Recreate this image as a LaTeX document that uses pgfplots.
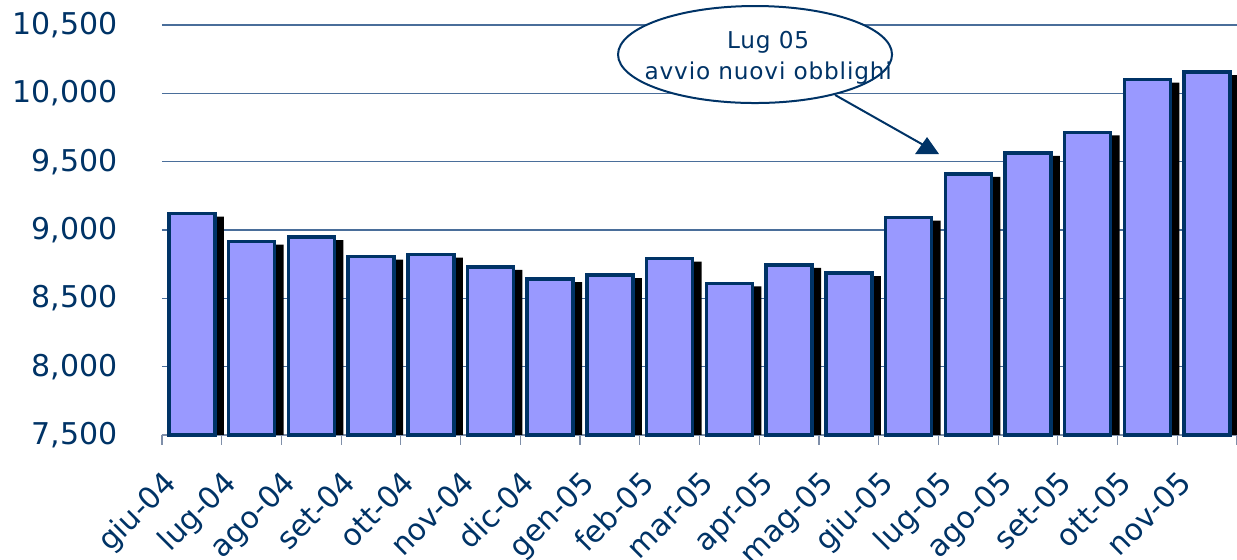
\documentclass[border=0pt]{standalone}
\usepackage{fontspec}
\setmainfont{DejaVu Sans}
\newfontfamily\spaced[LetterSpace=3.5]{DejaVu Sans}
\usepackage{pgfplots}
\pgfplotsset{compat=1.18}
\usepackage{pgfplotstable}
\usetikzlibrary{calc}

\definecolor{barfill}{HTML}{9999FF}
\definecolor{navy}{HTML}{003366}
\definecolor{gridc}{HTML}{4A6E9A}
\definecolor{tickc}{HTML}{7F8FA9}

% monthly values (bars start at 7,500)
\pgfplotstableread{
idx month value
0  giu-04 9120
1  lug-04 8915
2  ago-04 8947
3  set-04 8805
4  ott-04 8820
5  nov-04 8730
6  dic-04 8640
7  gen-05 8670
8  feb-05 8790
9  mar-05 8610
10 apr-05 8745
11 mag-05 8685
12 giu-05 9090
13 lug-05 9410
14 ago-05 9565
15 set-05 9715
16 ott-05 10100
17 nov-05 10155
}\data

\begin{document}
\begin{tikzpicture}
\begin{axis}[
    width=537.5pt, height=205pt, scale only axis,
    xmin=-0.5, xmax=17.5, ymin=0, ymax=3000,
    clip=false,
    axis lines*=left,
    x axis line style={tickc, line width=0.6pt},
    y axis line style={draw=none},
    ytick={0,500,...,3000},
    yticklabels={{7,500},{8,000},{8,500},{9,000},{9,500},{10,000},{10,500}},
    ytick style={draw=none},
    ymajorgrids, grid style={gridc, line width=0.6pt},
    yticklabel style={font=\fontsize{15}{15}\selectfont, text=navy, inner sep=0pt, xshift=-22pt},
    xtick={0,...,17},
    xticklabels from table={\data}{month},
    xtick style={draw=none},
    xticklabel style={font=\fontsize{15}{15}\selectfont, text=navy, xshift=-15pt, yshift=-12.5pt, rotate=45, anchor=north east, inner sep=0pt},
    extra x ticks={-0.5,0.5,...,17.5},
    extra x tick labels={},
    extra x tick style={grid=none, tick align=outside, major tick length=5pt, xtick style={draw=tickc, line width=0.6pt}},
    ybar, bar width=23pt,
]
\addplot[fill=black, draw=none, bar width=24pt, bar shift=4pt, y filter/.expression={y-7522}] table[x=idx, y=value] {\data};
\addplot[fill=barfill, draw=navy, line width=1.75pt, bar shift=0pt, y filter/.expression={y-7500}] table[x=idx, y=value] {\data};

% callout
\draw[navy, line width=1pt] (axis cs:10.77,2488) -- (axis cs:12.31,2107);
\fill[navy] (axis cs:12.31,2180) -- (axis cs:12.11,2056) -- (axis cs:12.51,2056) -- cycle;
\draw[navy, line width=1pt, fill=white] (axis cs:9.43,2784) ellipse [x radius=68.5pt, y radius=24.25pt];
\node[text=navy, font=\spaced\fontsize{11.6}{11.6}\selectfont] at (axis cs:9.65,2876) {Lug 05};
\node[text=navy, font=\spaced\fontsize{11.6}{11.6}\selectfont] at (axis cs:9.65,2649) {avvio nuovi obblighi};
\end{axis}
\pgfresetboundingbox
\path[use as bounding box] ($(current axis.south west)+(-81pt,-62.5pt)$) rectangle ($(current axis.north east)+(0,12.5pt)$);
\end{tikzpicture}
\end{document}
